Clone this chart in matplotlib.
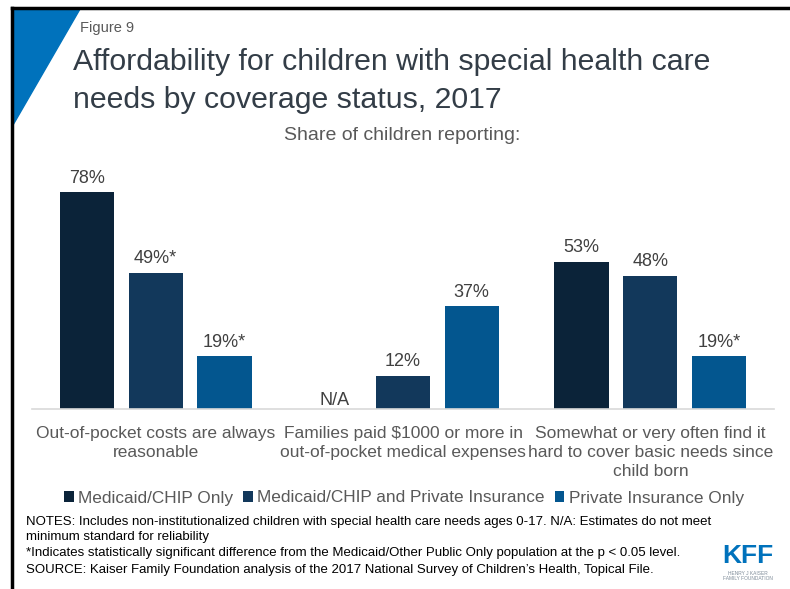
import matplotlib
matplotlib.use("Agg")
import matplotlib.pyplot as plt
from matplotlib.patches import Polygon
import numpy as np

plt.rcParams['font.family'] = ['Liberation Sans', 'DejaVu Sans']

categories = ["Out-of-pocket costs are always\nreasonable",
              "Families paid $1000 or more in\nout-of-pocket medical expenses",
              "Somewhat or very often find it\nhard to cover basic needs since\nchild born"]
series_names = ["Medicaid/CHIP Only", "Medicaid/CHIP and Private Insurance",
                "Private Insurance Only"]
medicaid_only = [78, None, 53]
medicaid_private = [49, 12, 48]
private_only = [19, 37, 19]
labels_medicaid_only = ["78%", "N/A", "53%"]
labels_medicaid_private = ["49%*", "12%", "48%"]
labels_private_only = ["19%*", "37%", "19%*"]

colors = ["#0b2339", "#12385b", "#03568f"]
W, H = 790, 589

fig = plt.figure(figsize=(W / 100, H / 100), dpi=100)

# frame lines and corner triangle
fig.add_artist(plt.Line2D([12 / W, 12 / W], [0, 1 - 8 / H], color="black", lw=2.5))
fig.add_artist(plt.Line2D([12 / W, 1], [1 - 8 / H, 1 - 8 / H], color="black", lw=2.5))
fig.add_artist(Polygon([[13 / W, 1 - 9 / H], [80 / W, 1 - 9 / H], [13 / W, 1 - 125 / H]],
                       closed=True, color="#0072bc", transform=fig.transFigure))

fig.text(80 / W, 1 - 28 / H, "Figure 9", fontsize=10.5, color="#595959", va="center")
fig.text(73 / W, 1 - 70 / H, "Affordability for children with special health care",
         fontsize=21.8, color="#333d47", va="baseline")
fig.text(73 / W, 1 - 108 / H, "needs by coverage status, 2017",
         fontsize=21.8, color="#333d47", va="baseline")
fig.text(402 / W, 1 - 135 / H, "Share of children reporting:", fontsize=14,
         color="#595959", ha="center", va="center")

ax = fig.add_axes([32 / W, 1 - 409 / H, (774 - 32) / W, 250 / H])
x = np.arange(len(categories))
width = 0.219
step = 0.278
all_series = [medicaid_only, medicaid_private, private_only]
all_labels = [labels_medicaid_only, labels_medicaid_private, labels_private_only]
for i, (vals, labs) in enumerate(zip(all_series, all_labels)):
    pos = x + (i - 1) * step
    heights = [v if v is not None else 0 for v in vals]
    ax.bar(pos, heights, width, color=colors[i], label=series_names[i])
    for p, v, h, lab in zip(pos, vals, heights, labs):
        off = 4 if v is not None else 0
        ax.annotate(lab, (p, h), xytext=(0, off), textcoords="offset points",
                    ha="center", va="bottom", fontsize=13, color="#404040")

ax.set_xlim(-0.5, 2.5)
ax.set_ylim(0, 90)
ax.set_yticks([])
ax.set_xticks(x)
ax.set_xticklabels(categories, fontsize=12.5, color="#595959", linespacing=1.35)
ax.tick_params(axis="x", length=0, pad=12)
for s in ["top", "right", "left"]:
    ax.spines[s].set_visible(False)
ax.spines["bottom"].set_color("#d9d9d9")
ax.spines["bottom"].set_linewidth(1.2)

fig.legend(loc="center", bbox_to_anchor=(404 / W, 1 - 498 / H), ncol=3, frameon=False,
           fontsize=12.4, handlelength=0.55, handleheight=0.55,
           handletextpad=0.25, columnspacing=0.6, labelcolor="#595959")

notes_kw = dict(fontsize=9.5, va="center")
fig.text(26 / W, 1 - 522 / H,
         "NOTES: Includes non-institutionalized children with special health care needs ages 0-17. N/A: Estimates do not meet",
         **notes_kw)
fig.text(26 / W, 1 - 537 / H, "minimum standard for reliability", **notes_kw)
fig.text(26 / W, 1 - 553 / H,
         "*Indicates statistically significant difference from the Medicaid/Other Public Only population at the p < 0.05 level.",
         **notes_kw)
fig.text(26 / W, 1 - 570 / H,
         "SOURCE: Kaiser Family Foundation analysis of the 2017 National Survey of Children\u2019s Health, Topical File.",
         **notes_kw)

fig.text(748 / W, 1 - 556 / H, "KFF", fontsize=19, fontweight="bold", color="#0072bc",
         ha="center", va="center")
fig.text(748 / W, 1 - 576 / H, "HENRY J KAISER\nFAMILY FOUNDATION", fontsize=3.5,
         color="#7f8c99", ha="center", va="center", linespacing=1.1)

fig.savefig("out.png", dpi=100)
